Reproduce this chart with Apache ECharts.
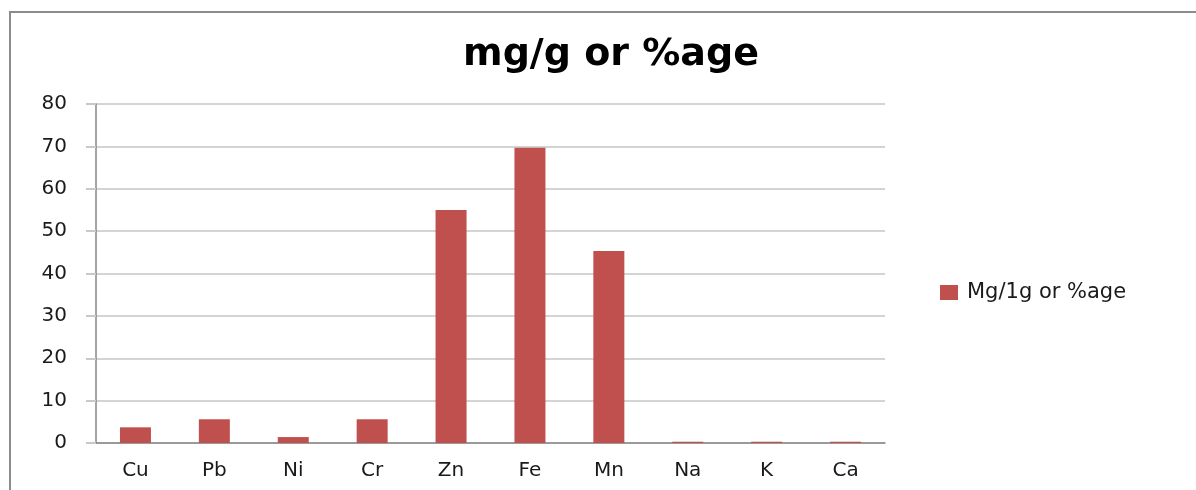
<!DOCTYPE html>
<html>
<head>
<meta charset="utf-8">
<script src="https://cdn.jsdelivr.net/npm/echarts@6/dist/echarts.min.js"></script>
<style>
  html, body { margin: 0; padding: 0; background: #fff; }
  #frame { position: absolute; left: 9px; top: 11px; width: 1200px; height: 500px; border: 2px solid #8c8c8c; box-sizing: border-box; }
  #chart { position: absolute; left: 0; top: 0; width: 1196px; height: 490px; }
</style>
</head>
<body>
<div id="frame"></div>
<div id="chart"></div>
<script>
var elements = ['Cu', 'Pb', 'Ni', 'Cr', 'Zn', 'Fe', 'Mn', 'Na', 'K', 'Ca'];
var mgValues = [3.7, 5.6, 1.4, 5.6, 55, 69.7, 45.3, 0.3, 0.3, 0.3];
var seriesName = 'Mg/1g or %age';
var chartTitle = 'mg/g or %age';

var myChart = echarts.init(document.getElementById('chart'));

var option = {
    animation: false,
    title: {
        text: chartTitle,
        left: 611,
        textAlign: 'center',
        top: 36,
        padding: 0,
        textStyle: { fontFamily: 'DejaVu Sans', fontSize: 38, fontWeight: 'bold', color: '#000' }
    },
    legend: {
        data: [seriesName],
        orient: 'vertical',
        left: 940,
        top: 282,
        padding: 0,
        itemWidth: 18,
        itemHeight: 15,
        icon: 'rect',
        textStyle: { fontFamily: 'DejaVu Sans', fontSize: 21, color: '#1a1a1a', padding: [0, 0, 0, 4] }
    },
    grid: { left: 96, right: 311, top: 104, bottom: 47 },
    xAxis: {
        type: 'category',
        data: elements,
        axisLine: { lineStyle: { color: '#868686', width: 1.5 } },
        axisTick: { length: 6, lineStyle: { color: '#868686' } },
        axisLabel: { fontFamily: 'DejaVu Sans', fontSize: 20, color: '#1a1a1a', margin: 18 }
    },
    yAxis: {
        type: 'value',
        min: 0,
        max: 80,
        interval: 10,
        axisLine: { show: true, lineStyle: { color: '#868686', width: 1.5 } },
        axisTick: { show: true, length: 10, lineStyle: { color: '#c8c8c8', width: 2 } },
        axisLabel: { fontFamily: 'DejaVu Sans', fontSize: 20, color: '#1a1a1a', margin: 29 },
        splitLine: { lineStyle: { color: '#d4d4d4', width: 2 } }
    },
    series: [{
        name: seriesName,
        type: 'bar',
        data: mgValues,
        barWidth: 31,
        itemStyle: { color: '#C0504D' }
    }]
};

myChart.setOption(option);
</script>
</body>
</html>
